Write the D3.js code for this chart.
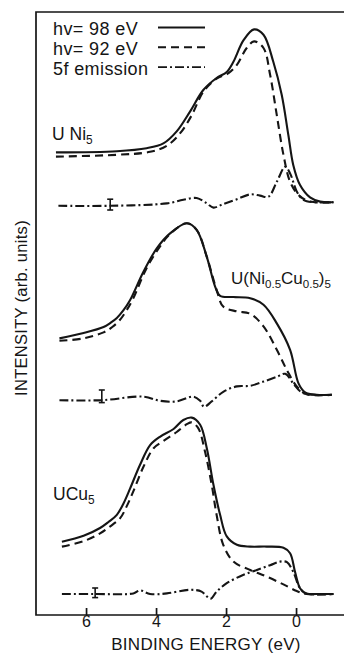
<!DOCTYPE html>
<html>
<head>
<meta charset="utf-8">
<script src="https://cdn.jsdelivr.net/npm/d3@7"></script>
<style>
  html, body { margin: 0; padding: 0; background: #fff; }
  svg { display: block; font-family: "Liberation Sans", Arial, sans-serif; }
</style>
</head>
<body>
<div id="chart"></div>
<script>
// binding energy (eV), intensity (arb. units, 0..100 across the whole frame)
const UNI5_98 = [[6.86,77.1],[5.12,77.3],[4.27,77.8],[3.79,78.6],[3.41,80.6],[3.03,83.9],[2.65,87.5],[2.27,89.5],[1.98,90.5],[1.79,92.2],[1.5,95.8],[1.2,97.6],[0.93,96.7],[0.65,92.2],[0.41,86.7],[0.22,80.0],[0.08,75.0],[-0.11,71.7],[-0.4,69.6],[-0.69,68.9],[-1.07,68.8]];
const UNI5_92 = [[6.86,76.4],[5.12,76.7],[4.17,77.2],[3.69,78.2],[3.31,80.3],[2.98,83.3],[2.65,87.2],[2.27,89.4],[1.93,90.3],[1.69,91.7],[1.41,94.5],[1.2,95.6],[0.93,94.5],[0.74,90.0],[0.55,83.3],[0.36,76.7],[0.17,72.2],[-0.07,70.0],[-0.4,68.9],[-1.07,68.8]];
const UNI5_5F = [[6.79,68.2],[5.31,68.2],[3.69,68.6],[3.22,69.2],[2.84,69.5],[2.55,68.6],[2.36,67.9],[2.08,68.5],[1.69,69.3],[1.31,70.1],[1.03,69.9],[0.79,69.7],[0.55,72.2],[0.31,74.7],[0.17,73.6],[-0.02,70.6],[-0.21,69.2],[-0.5,68.8],[-1.07,68.8]];

const UNICU_98 = [[6.76,46.1],[6.07,47.0],[5.5,48.0],[5.3,48.7],[5.12,49.5],[4.93,50.8],[4.74,52.5],[4.36,57.2],[3.98,61.1],[3.6,63.6],[3.12,65.3],[2.84,64.2],[2.55,59.7],[2.31,54.7],[2.17,53.2],[1.79,53.0],[1.31,52.8],[0.93,51.7],[0.55,48.6],[0.17,44.2],[-0.07,38.6],[-0.26,37.1],[-0.59,36.7],[-1.02,36.7]];
const UNICU_92 = [[6.76,45.7],[6.07,46.1],[5.5,47.1],[5.25,48.0],[5.03,49.2],[4.84,50.8],[4.65,52.8],[4.27,57.8],[3.89,61.4],[3.6,63.5],[3.12,65.3],[2.84,64.2],[2.55,59.7],[2.27,54.2],[2.08,51.4],[1.69,50.6],[1.31,50.2],[0.93,48.1],[0.55,44.2],[0.26,40.8],[-0.02,38.1],[-0.3,36.8],[-1.02,36.7]];
const UNICU_5F = [[6.76,35.8],[5.55,35.8],[4.36,36.4],[3.89,35.7],[3.41,35.6],[2.93,36.4],[2.74,35.7],[2.63,34.7],[2.41,35.6],[2.08,37.2],[1.69,38.1],[1.31,38.2],[0.93,38.9],[0.55,39.7],[0.31,40.2],[0.08,38.6],[-0.16,37.1],[-0.5,36.7],[-1.02,36.7]];

const UCU5_98 = [[6.69,12.2],[6.07,13.2],[5.6,14.5],[5.36,15.5],[5.12,16.7],[4.93,18.6],[4.74,21.1],[4.46,25.0],[4.17,28.3],[3.89,29.7],[3.5,31.0],[3.22,32.5],[2.98,32.9],[2.74,31.7],[2.55,27.8],[2.36,21.7],[2.17,16.7],[1.98,13.1],[1.69,11.7],[1.31,11.4],[0.84,11.4],[0.36,11.2],[0.17,10.3],[0.03,7.2],[-0.11,4.5],[-0.26,3.6],[-0.59,3.5],[-1.07,3.5]];
const UCU5_92 = [[6.69,11.4],[6.07,12.3],[5.6,13.6],[5.33,14.7],[5.03,16.1],[4.84,18.1],[4.65,20.6],[4.36,24.7],[4.07,27.8],[3.79,29.0],[3.41,30.5],[3.12,31.8],[2.98,32.1],[2.79,31.1],[2.6,27.2],[2.41,21.7],[2.27,16.7],[2.08,11.7],[1.79,8.9],[1.31,7.5],[0.84,6.4],[0.36,5.1],[-0.02,4.0],[-0.3,3.5],[-1.07,3.5]];
const UCU5_5F = [[6.69,3.5],[5.74,3.5],[4.65,3.6],[4.46,4.1],[4.17,3.5],[3.69,3.6],[3.03,4.2],[2.7,3.9],[2.55,3.1],[2.44,2.7],[2.27,3.9],[1.98,5.3],[1.5,6.7],[1.12,7.5],[0.74,8.3],[0.46,8.9],[0.26,8.8],[0.08,7.2],[-0.11,4.5],[-0.3,3.6],[-1.07,3.5]];

// error bars on the 5f curves: energy, low, high
const ERR_BE = [5.31, 5.55, 5.74];
const ERR_LO = [67.5, 35.4, 2.9];
const ERR_HI = [69.3, 37.5, 4.5];

const X_TICKS = [6, 4, 2, 0];
const LEGEND = ["hv= 98 eV", "hv= 92 eV", "5f emission"];
const DASH = ["none", "8,5", "9,3,2,3"];

const W = 344, H = 653;
const x = d3.scaleLinear().domain([7.43, -1.37]).range([36, 344]);
const y = d3.scaleLinear().domain([0, 100]).range([615, 15]);
const INK = "#151515";

const svg = d3.select("#chart").append("svg")
  .attr("width", W).attr("height", H)
  .attr("viewBox", `0 0 ${W} ${H}`);

// frame: left, top, bottom (open on the right)
svg.append("path")
  .attr("d", `M${W},12H36V615H${W}`)
  .attr("fill", "none").attr("stroke", INK).attr("stroke-width", 1.7);

const xAxis = d3.axisBottom(x).tickValues(X_TICKS).tickSize(-7).tickPadding(1).tickFormat(d3.format("d"));
const gx = svg.append("g").attr("transform", "translate(0,615)").call(xAxis);
gx.select(".domain").remove();
gx.selectAll(".tick line").attr("stroke", INK).attr("stroke-width", 1.7);
gx.selectAll(".tick text").attr("font-size", 16).attr("fill", INK)
  .attr("font-family", "Liberation Sans, Arial, sans-serif");

svg.append("text")
  .attr("x", 206).attr("y", 650)
  .attr("text-anchor", "middle")
  .attr("font-size", 17).attr("fill", INK)
  .attr("letter-spacing", 0.3)
  .text("BINDING ENERGY (eV)");

svg.append("text")
  .attr("transform", "translate(27,308) rotate(-90)")
  .attr("text-anchor", "middle")
  .attr("font-size", 16.5).attr("fill", INK)
  .attr("letter-spacing", 0.3)
  .text("INTENSITY (arb. units)");

const line = d3.line()
  .x((d) => x(d[0]))
  .y((d) => y(d[1]))
  .curve(d3.curveCatmullRom.alpha(0.5));

const series = [
  [UNI5_98, 0], [UNI5_92, 1], [UNI5_5F, 2],
  [UNICU_98, 0], [UNICU_92, 1], [UNICU_5F, 2],
  [UCU5_98, 0], [UCU5_92, 1], [UCU5_5F, 2],
];

svg.append("g").selectAll("path")
  .data(series)
  .join("path")
  .attr("d", (d) => line(d[0]))
  .attr("fill", "none")
  .attr("stroke", INK)
  .attr("stroke-width", 2.1)
  .attr("stroke-linejoin", "round")
  .attr("stroke-dasharray", (d) => DASH[d[1]]);

const err = svg.append("g").attr("stroke", INK).attr("stroke-width", 1.6);
ERR_BE.forEach((be, i) => {
  const cx = x(be);
  err.append("line").attr("x1", cx).attr("x2", cx).attr("y1", y(ERR_LO[i])).attr("y2", y(ERR_HI[i]));
  err.append("line").attr("x1", cx - 3).attr("x2", cx + 3).attr("y1", y(ERR_LO[i])).attr("y2", y(ERR_LO[i]));
  err.append("line").attr("x1", cx - 3).attr("x2", cx + 3).attr("y1", y(ERR_HI[i])).attr("y2", y(ERR_HI[i]));
});

// legend
const leg = svg.append("g");
LEGEND.forEach((label, i) => {
  const base = 35 + i * 19.8;
  leg.append("text")
    .attr("x", 53).attr("y", base)
    .attr("font-size", 18).attr("fill", INK)
    .attr("letter-spacing", 0.4)
    .text(label);
  leg.append("line")
    .attr("x1", 158).attr("x2", 205)
    .attr("y1", base - 7.5).attr("y2", base - 7.5)
    .attr("stroke", INK).attr("stroke-width", 1.9)
    .attr("stroke-dasharray", DASH[i]);
});

// sample labels
function sampleLabel(px, py, parts, size) {
  const t = svg.append("text").attr("x", px).attr("y", py).attr("fill", INK);
  let shift = 0;
  parts.forEach(([s, sub]) => {
    const want = sub ? 4 : 0;
    t.append("tspan")
      .attr("dy", want - shift)
      .attr("font-size", sub ? size * 0.68 : size)
      .text(s);
    shift = want;
  });
}
sampleLabel(52, 139.5, [["U Ni", false], ["5", true]], 17.5);
sampleLabel(231, 284, [["U(Ni", false], ["0.5", true], ["Cu", false], ["0.5", true], [")", false], ["5", true]], 17);
sampleLabel(53, 500, [["UCu", false], ["5", true]], 17.5);
</script>
</body>
</html>
